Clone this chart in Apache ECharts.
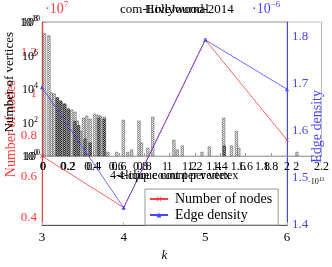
<!DOCTYPE html>
<html><head><meta charset="utf-8">
<script src="https://cdn.jsdelivr.net/npm/echarts@6/dist/echarts.min.js"></script>
<style>html,body{margin:0;padding:0;background:#fff}#c{width:332px;height:267px}</style>
</head><body><div id="c"></div>
<script>
// ---- data ----
const kValues = [3, 4, 5, 6];
const numNodesE7 = [0.70, 0.451, 1.262, 0.777];        // x 10^7
const edgeDensityE6 = [1.691, 1.435, 1.792, 1.687];     // x 10^-6
const redTicks = [0.4, 0.6, 0.8, 1, 1.2];
const blueTicks = [1.4, 1.5, 1.6, 1.7, 1.8];
// histogram (4-clique count per vertex), light bars
const histLightX = [0.012,0.047,0.066,0.089,0.117,0.140,0.171,0.198,0.226,0.253,0.272,0.295,0.319,0.346,0.373,0.408,0.435,0.455,0.486,0.513,0.583,0.634,0.669,0.700,0.758,0.778,0.828,0.867,1.034,1.061,1.100,1.256,1.314,1.427,1.489,1.528,1.547,2.006];
const histLightN = [1.5e9,1e9,5.5e4,4.6e4,2.3e4,1.4e4,8e3,4e3,2.9e3,2e3,430,76,720,1000,600,1400,1200,1000,850,2,2,500,2,3,430,10,4,850,16,3,6,2,5,720,6,76,4,2];
// darker overlapped bars
const histDarkX = [0.10,0.13,0.16,0.19,0.24,0.27,0.32,0.36,0.43,0.47,1.42];
const histDarkN = [2.3e4,1.2e4,8e3,3e3,400,200,20,10,720,600,6];

const RED = 'rgb(255,60,60)', BLUE = 'rgb(70,70,255)';
const SERIF = '"Liberation Serif","DejaVu Serif",serif';

function pattern(bg, fg) {
  const c = document.createElement('canvas'); c.width = c.height = 2;
  const g = c.getContext('2d'); g.fillStyle = bg; g.fillRect(0,0,2,2);
  g.fillStyle = fg; g.fillRect(0,0,1,1); g.fillRect(1,1,1,1);
  return c;
}
function pow10(v) {
  const e = Math.round(Math.log10(v));
  if (e % 2 !== 0) return '';
  return '{b|10}{s|' + e + '}';
}
const powRich = { b: {fontFamily: SERIF, fontSize: 12, color: '#000', verticalAlign: 'bottom'},
                  s: {fontFamily: SERIF, fontSize: 8, color: '#000', verticalAlign: 'bottom', padding: [0,0,6,0]} };
const histFmt = v => String(Math.round(v * 10) / 10);
function tickFmt(list, digits) {
  return v => {
    const r = Math.round(v * 10) / 10;
    if (Math.abs(v - r) > 1e-6 || !list.some(t => Math.abs(t - r) < 1e-6)) return '';
    return digits ? r.toFixed(digits) : String(r);
  };
}

const chart = echarts.init(document.getElementById('c'), null, {renderer: 'canvas'});
chart.setOption({
  animation: false,
  grid: [
    {left: 42, right: 45, top: 22, bottom: 34, show: true, borderColor: '#aaa', borderWidth: 0.8},
    {left: 43, right: 6, top: 22, bottom: 111, show: true, borderColor: '#aaa', borderWidth: 0.8},
    {left: 43, right: 45, top: 22, bottom: 111}
  ],
  xAxis: [
    {gridIndex: 0, type: 'value', min: 3, max: 6, interval: 1,
     axisLine: {lineStyle: {color: '#555', width: 1}},
     axisTick: {inside: true, length: 3, lineStyle: {color: '#bbb'}},
     splitLine: {show: false},
     axisLabel: {fontFamily: SERIF, fontSize: 13, color: '#000', margin: 6},
     name: 'k', nameLocation: 'middle', nameGap: 20,
     nameTextStyle: {fontFamily: SERIF, fontSize: 13, fontStyle: 'italic', color: '#000'}},
    {gridIndex: 1, type: 'value', min: 0, max: 2.2, interval: 0.2,
     axisLine: {lineStyle: {color: '#999', width: 0.8}},
     axisTick: {inside: true, length: 3, lineStyle: {color: '#999'}},
     splitLine: {show: false},
     axisLabel: {fontFamily: SERIF, fontSize: 12, color: '#000', margin: 5, formatter: histFmt}},
    {gridIndex: 2, type: 'value', min: 0, max: 2, interval: 0.2,
     axisLine: {show: false}, axisTick: {show: false}, splitLine: {show: false},
     axisLabel: {fontFamily: SERIF, fontSize: 12, color: '#000', margin: 5, formatter: histFmt}}
  ],
  yAxis: [
    {gridIndex: 0, type: 'value', position: 'left', min: 0.366, max: 1.348, interval: 0.002,
     axisLine: {show: true, lineStyle: {color: RED, width: 1}},
     axisTick: {show: false},
     splitLine: {show: false},
     axisLabel: {fontFamily: SERIF, fontSize: 13, color: RED, margin: 5, formatter: tickFmt(redTicks, 0)}},
    {gridIndex: 0, type: 'value', position: 'right', min: 1.398, max: 1.83, interval: 0.002,
     axisLine: {show: true, lineStyle: {color: BLUE, width: 1}},
     axisTick: {show: false},
     splitLine: {show: false},
     axisLabel: {fontFamily: SERIF, fontSize: 13, color: BLUE, margin: 5, formatter: tickFmt(blueTicks, 1)}},
    {gridIndex: 1, type: 'log', min: 1, max: 1e10, logBase: 10,
     axisLine: {show: false}, axisTick: {inside: true, length: 3, lineStyle: {color: '#999'}},
     splitLine: {show: false},
     axisLabel: {margin: 3, formatter: pow10, rich: powRich}},
    {gridIndex: 2, type: 'log', min: 1, max: 1e8, logBase: 10,
     axisLine: {show: false}, axisTick: {show: false}, splitLine: {show: false},
     axisLabel: {margin: 5, formatter: pow10, rich: powRich}}
  ],
  legend: {
    data: ['Number of nodes', 'Edge density'], orient: 'vertical', left: 145, top: 189,
    itemWidth: 18, itemHeight: 6, itemGap: 2, padding: [3, 6, 3, 4],
    backgroundColor: '#fff', borderColor: '#999', borderWidth: 1, borderRadius: 0,
    textStyle: {fontFamily: SERIF, fontSize: 14, color: '#000', padding: [0,0,0,2]}
  },
  graphic: [
    {type: 'text', left: 120, top: 3, z: 10, style: {text: 'com-LiveJournal', font: '13px ' + SERIF, fill: '#000'}},
    {type: 'text', left: 145, top: 3, z: 10, style: {text: 'Hollywood-2014', font: '13px ' + SERIF, fill: '#000'}},
    {type: 'text', left: 45, top: 0, z: 10, style: {rich: {a: {font: '14px ' + SERIF, fill: RED, verticalAlign: 'bottom'}, e: {font: '9px ' + SERIF, fill: RED, verticalAlign: 'bottom', padding: [0,0,7,0]}}, text: '{a|·10}{e|7}'}},
    {type: 'text', left: 252, top: 0, z: 10, style: {rich: {a: {font: '14px ' + SERIF, fill: BLUE, verticalAlign: 'bottom'}, e: {font: '9px ' + SERIF, fill: BLUE, verticalAlign: 'bottom', padding: [0,0,7,0]}}, text: '{a|·10}{e|−6}'}},
    {type: 'text', left: 4, top: 80, rotation: Math.PI / 2, z: 10, style: {text: 'Number of nodes', font: '14px ' + SERIF, fill: RED}},
    {type: 'text', left: 3, top: 32, rotation: Math.PI / 2, z: 10, style: {text: 'Number of vertices', font: '13px ' + SERIF, fill: '#000'}},
    {type: 'text', left: 310, top: 90, rotation: Math.PI / 2, z: 10, style: {text: 'Edge density', font: '14px ' + SERIF, fill: BLUE}},
    {type: 'text', left: 110, top: 170, z: 10, style: {text: '4-clique count per vertex', font: '12px ' + SERIF, fill: '#000'}},
    {type: 'text', left: 118, top: 170, z: 10, style: {text: '4-clique count per vertex', font: '12px ' + SERIF, fill: '#000'}},
    {type: 'text', left: 308, top: 176, z: 10, style: {rich: {a: {font: '8px ' + SERIF, fill: '#000', verticalAlign: 'bottom'}, e: {font: '6px ' + SERIF, fill: '#000', verticalAlign: 'bottom', padding: [0,0,4,0]}}, text: '{a|·10}{e|11}'}}
  ],
  series: [
    {name: 'hist', type: 'bar', xAxisIndex: 1, yAxisIndex: 2, barWidth: 3, barGap: '-100%', z: 1,
     itemStyle: {color: {image: pattern('#f2f2f2', '#9a9a9a'), repeat: 'repeat'}, borderColor: '#555', borderWidth: 0.5},
     data: histLightX.map((x, i) => [x, histLightN[i]])},
    {name: 'hist2', type: 'bar', xAxisIndex: 1, yAxisIndex: 2, barWidth: 3, barGap: '-100%', z: 2,
     itemStyle: {color: {image: pattern('#aaa', '#333'), repeat: 'repeat'}, borderColor: '#222', borderWidth: 0.5},
     data: histDarkX.map((x, i) => [x + 0.012, histDarkN[i]])},
    {name: 'Number of nodes', type: 'line', xAxisIndex: 0, yAxisIndex: 0, z: 5,
     symbol: 'path://M0,1L1,0L5,4L9,0L10,1L6,5L10,9L9,10L5,6L1,10L0,9L4,5Z', symbolSize: 4,
     itemStyle: {color: RED}, lineStyle: {color: RED, width: 0.8},
     data: kValues.map((k, i) => [k, numNodesE7[i]])},
    {name: 'Edge density', type: 'line', xAxisIndex: 0, yAxisIndex: 1, z: 6,
     symbol: 'triangle', symbolSize: 4,
     itemStyle: {color: BLUE}, lineStyle: {color: BLUE, width: 0.8},
     data: kValues.map((k, i) => [k, edgeDensityE6[i]])}
  ]
});
</script></body></html>
